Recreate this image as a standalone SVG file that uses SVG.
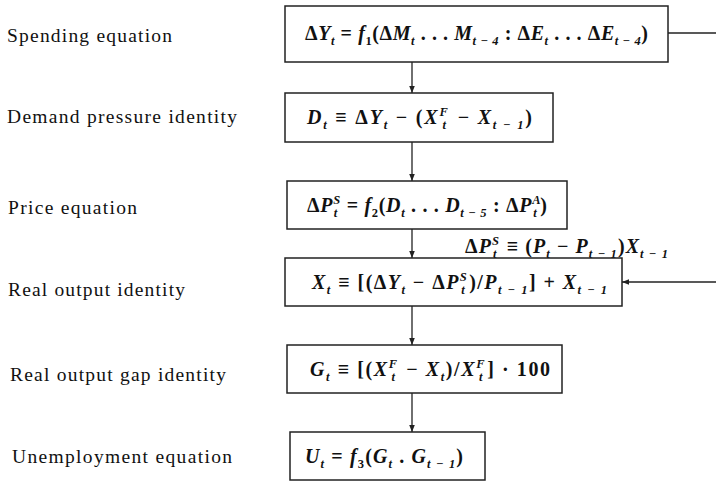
<svg xmlns="http://www.w3.org/2000/svg" width="727" height="483" viewBox="0 0 727 483">
<style>
.lbl{font-family:"Liberation Serif","Times New Roman",serif;font-size:19.5px;fill:#111}
.eq{font-family:"Liberation Serif","Times New Roman",serif;font-size:20px;font-weight:bold;font-style:italic;fill:#111}
.up{font-style:normal}
.s{font-size:12.5px}
.box{fill:none;stroke:#222;stroke-width:1.5}
.con{fill:none;stroke:#222;stroke-width:1.3}
</style>
<defs>
<marker id="ah" viewBox="0 0 10 10" refX="10" refY="5" markerWidth="7" markerHeight="7" orient="auto" markerUnits="userSpaceOnUse">
<path d="M0,1 L10,5 L0,9 Z" fill="#222"/>
</marker>
</defs>
<rect width="727" height="483" fill="#fff"/>

<g id="labels">
<text class="lbl" x="7" y="42" textLength="165" lengthAdjust="spacing">Spending equation</text>
<text class="lbl" x="7" y="123" textLength="230" lengthAdjust="spacing">Demand pressure identity</text>
<text class="lbl" x="8" y="214" textLength="129" lengthAdjust="spacing">Price equation</text>
<text class="lbl" x="8" y="296" textLength="177" lengthAdjust="spacing">Real output identity</text>
<text class="lbl" x="10" y="381" textLength="216" lengthAdjust="spacing">Real output gap identity</text>
<text class="lbl" x="12" y="463" textLength="220" lengthAdjust="spacing">Unemployment equation</text>
</g>

<g id="connectors">
<line class="con" x1="412" y1="62" x2="412" y2="93" marker-end="url(#ah)"/>
<line class="con" x1="412" y1="142" x2="412" y2="181" marker-end="url(#ah)"/>
<line class="con" x1="412" y1="229" x2="412" y2="258" marker-end="url(#ah)"/>
<line class="con" x1="412" y1="306" x2="412" y2="345" marker-end="url(#ah)"/>
<line class="con" x1="412" y1="393" x2="412" y2="432" marker-end="url(#ah)"/>
<line class="con" x1="668" y1="33" x2="716" y2="33"/>
<line class="con" x1="716" y1="282" x2="622" y2="282" marker-end="url(#ah)"/>
</g>

<g id="spending">
<rect class="box" x="285" y="6" width="383" height="56"/>
<text class="eq" x="305" y="40" textLength="343" lengthAdjust="spacing"><tspan class="up">Δ</tspan>Y<tspan class="s" dy="5">t</tspan><tspan dy="-5" class="up"> = </tspan>f<tspan class="s up" dy="5">1</tspan><tspan dy="-5" class="up">(Δ</tspan>M<tspan class="s" dy="5">t</tspan><tspan dy="-5" class="up"> . . . </tspan>M<tspan class="s" dy="5">t − 4</tspan><tspan dy="-5" class="up"> : Δ</tspan>E<tspan class="s" dy="5">t</tspan><tspan dy="-5" class="up"> . . . Δ</tspan>E<tspan class="s" dy="5">t − 4</tspan><tspan dy="-5" class="up">)</tspan></text>
</g>

<g id="demand">
<rect class="box" x="285" y="93" width="268" height="49"/>
<text class="eq" x="307" y="124" textLength="225" lengthAdjust="spacing">D<tspan class="s" dy="5">t</tspan><tspan dy="-5" class="up"> ≡ Δ</tspan>Y<tspan class="s" dy="5">t</tspan><tspan dy="-5" class="up"> − (</tspan>X<tspan class="s" dy="-8">F</tspan><tspan class="s" dx="-7" dy="13">t</tspan><tspan dy="-5" dx="3" class="up"> − </tspan>X<tspan class="s" dy="5">t − 1</tspan><tspan dy="-5" class="up">)</tspan></text>
</g>

<g id="price">
<rect class="box" x="287" y="181" width="280" height="48"/>
<text class="eq" x="307" y="212" textLength="240" lengthAdjust="spacing"><tspan class="up">Δ</tspan>P<tspan class="s" dy="-8">S</tspan><tspan class="s" dx="-7" dy="13">t</tspan><tspan dy="-5" dx="3" class="up"> = </tspan>f<tspan class="s up" dy="5">2</tspan><tspan dy="-5" class="up">(</tspan>D<tspan class="s" dy="5">t</tspan><tspan dy="-5" class="up"> . . . </tspan>D<tspan class="s" dy="5">t − 5</tspan><tspan dy="-5" class="up"> : Δ</tspan>P<tspan class="s" dy="-8">A</tspan><tspan class="s" dx="-8" dy="13">t</tspan><tspan dy="-5" dx="3" class="up">)</tspan></text>
</g>

<g id="price-def">
<text class="eq" x="465" y="253" textLength="203" lengthAdjust="spacing"><tspan class="up">Δ</tspan>P<tspan class="s" dy="-8">S</tspan><tspan class="s" dx="-7" dy="13">t</tspan><tspan dy="-5" dx="3" class="up"> ≡ (</tspan>P<tspan class="s" dy="5">t</tspan><tspan dy="-5" class="up"> − </tspan>P<tspan class="s" dy="5">t − 1</tspan><tspan dy="-5" class="up">)</tspan>X<tspan class="s" dy="5">t − 1</tspan></text>
</g>

<g id="real-output">
<rect class="box" x="285" y="258" width="337" height="48"/>
<text class="eq" x="312" y="289" textLength="295" lengthAdjust="spacing">X<tspan class="s" dy="5">t</tspan><tspan dy="-5" class="up"> ≡ [(Δ</tspan>Y<tspan class="s" dy="5">t</tspan><tspan dy="-5" class="up"> − Δ</tspan>P<tspan class="s" dy="-8">S</tspan><tspan class="s" dx="-7" dy="13">t</tspan><tspan dy="-5" dx="3" class="up">)/</tspan>P<tspan class="s" dy="5">t − 1</tspan><tspan dy="-5" class="up">] + </tspan>X<tspan class="s" dy="5">t − 1</tspan></text>
</g>

<g id="gap">
<rect class="box" x="287" y="345" width="275" height="48"/>
<text class="eq" x="310" y="376" textLength="240" lengthAdjust="spacing">G<tspan class="s" dy="5">t</tspan><tspan dy="-5" class="up"> ≡ [(</tspan>X<tspan class="s" dy="-8">F</tspan><tspan class="s" dx="-7" dy="13">t</tspan><tspan dy="-5" dx="3" class="up"> − </tspan>X<tspan class="s" dy="5">t</tspan><tspan dy="-5" class="up">)/</tspan>X<tspan class="s" dy="-8">F</tspan><tspan class="s" dx="-7" dy="13">t</tspan><tspan dy="-5" dx="3" class="up">] · 100</tspan></text>
</g>

<g id="unemployment">
<rect class="box" x="290" y="432" width="195" height="48"/>
<text class="eq" x="305" y="463" textLength="158" lengthAdjust="spacing">U<tspan class="s" dy="5">t</tspan><tspan dy="-5" class="up"> = </tspan>f<tspan class="s up" dy="5">3</tspan><tspan dy="-5" class="up">(</tspan>G<tspan class="s" dy="5">t</tspan><tspan dy="-5" class="up"> . </tspan>G<tspan class="s" dy="5">t − 1</tspan><tspan dy="-5" class="up">)</tspan></text>
</g>
</svg>
